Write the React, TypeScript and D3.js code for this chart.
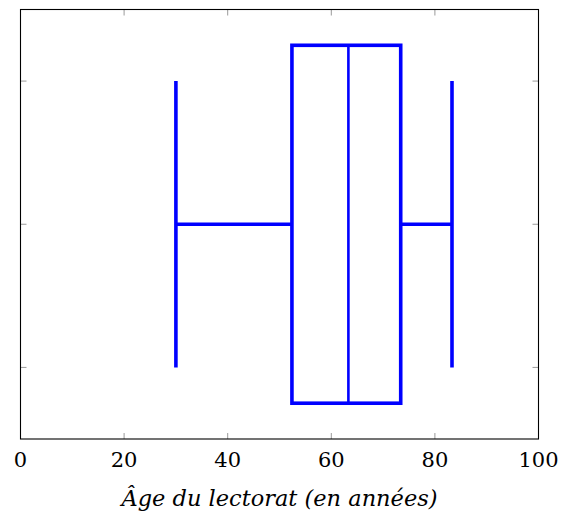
import { useEffect, useRef } from 'react';
import * as d3 from 'd3';

// Box plot values (years)
const lowerWhisker = 30;
const lowerQuartile = 52.4;
const median = 63.3;
const upperQuartile = 73.4;
const upperWhisker = 83.3;

const xTicks = [0, 20, 40, 60, 80, 100];
const yTicks = [1, 2, 3];
const boxCenter = 2;
const xLabel = 'Âge du lectorat (en années)';

export default function App() {
  const svgRef = useRef<SVGSVGElement>(null);

  useEffect(() => {
    const svg = d3.select(svgRef.current);
    svg.selectAll('*').remove();

    const W = 561;
    const H = 521;
    const margin = { top: 9.5, right: 22.5, bottom: 82, left: 20.5 };
    const innerW = W - margin.left - margin.right;
    const innerH = H - margin.top - margin.bottom;

    svg.attr('width', W).attr('height', H);
    const g = svg.append('g').attr('transform', `translate(${margin.left},${margin.top})`);

    const x = d3.scaleLinear().domain([0, 100]).range([0, innerW]);
    const y = d3.scaleLinear().domain([0.5, 3.5]).range([innerH, 0]);

    const tickColor = '#9a9a9a';
    const tickLen = 6;
    const serif = "'DejaVu Serif', serif";

    // inward ticks, bottom and top
    xTicks.forEach(t => {
      g.append('line').attr('x1', x(t)).attr('x2', x(t)).attr('y1', innerH).attr('y2', innerH - tickLen)
        .attr('stroke', tickColor).attr('stroke-width', 1);
      g.append('line').attr('x1', x(t)).attr('x2', x(t)).attr('y1', 0).attr('y2', tickLen)
        .attr('stroke', tickColor).attr('stroke-width', 1);
    });
    yTicks.forEach(t => {
      g.append('line').attr('x1', 0).attr('x2', tickLen).attr('y1', y(t)).attr('y2', y(t))
        .attr('stroke', tickColor).attr('stroke-width', 1);
      g.append('line').attr('x1', innerW).attr('x2', innerW - tickLen).attr('y1', y(t)).attr('y2', y(t))
        .attr('stroke', tickColor).attr('stroke-width', 1);
    });

    // tick labels
    g.selectAll('text.xt')
      .data(xTicks)
      .enter()
      .append('text')
      .attr('class', 'xt')
      .attr('x', d => x(d))
      .attr('y', innerH + 28)
      .attr('text-anchor', 'middle')
      .attr('font-family', serif)
      .attr('font-size', 21)
      .attr('fill', '#000')
      .text(d => d);

    // axis label
    g.append('text')
      .attr('x', innerW / 2)
      .attr('y', innerH + 67)
      .attr('text-anchor', 'middle')
      .attr('textLength', 316)
      .attr('lengthAdjust', 'spacingAndGlyphs')
      .attr('font-family', serif)
      .attr('font-style', 'italic')
      .attr('font-size', 22)
      .attr('fill', '#000')
      .text(xLabel);

    const blue = '#0000ff';
    const sw = 3.6;

    // whiskers
    g.append('line').attr('x1', x(lowerWhisker)).attr('x2', x(lowerQuartile))
      .attr('y1', y(boxCenter)).attr('y2', y(boxCenter)).attr('stroke', blue).attr('stroke-width', sw);
    g.append('line').attr('x1', x(upperQuartile)).attr('x2', x(upperWhisker))
      .attr('y1', y(boxCenter)).attr('y2', y(boxCenter)).attr('stroke', blue).attr('stroke-width', sw);
    [lowerWhisker, upperWhisker].forEach(v => {
      g.append('line').attr('x1', x(v)).attr('x2', x(v))
        .attr('y1', y(boxCenter - 1)).attr('y2', y(boxCenter + 1))
        .attr('stroke', blue).attr('stroke-width', sw);
    });

    // box
    g.append('rect')
      .attr('x', x(lowerQuartile))
      .attr('y', y(boxCenter + 1.25))
      .attr('width', x(upperQuartile) - x(lowerQuartile))
      .attr('height', y(boxCenter - 1.25) - y(boxCenter + 1.25))
      .attr('fill', 'none')
      .attr('stroke', blue)
      .attr('stroke-width', sw);

    // median
    g.append('line').attr('x1', x(median)).attr('x2', x(median))
      .attr('y1', y(boxCenter + 1.25)).attr('y2', y(boxCenter - 1.25))
      .attr('stroke', blue).attr('stroke-width', 2.6);

    // frame
    g.append('rect').attr('x', 0).attr('y', 0).attr('width', innerW).attr('height', innerH)
      .attr('fill', 'none').attr('stroke', '#000').attr('stroke-width', 1.1);
  }, []);

  return (
    <div style={{ position: 'absolute', left: 0, top: 0 }}>
      <svg ref={svgRef} style={{ display: 'block' }}></svg>
    </div>
  );
}
